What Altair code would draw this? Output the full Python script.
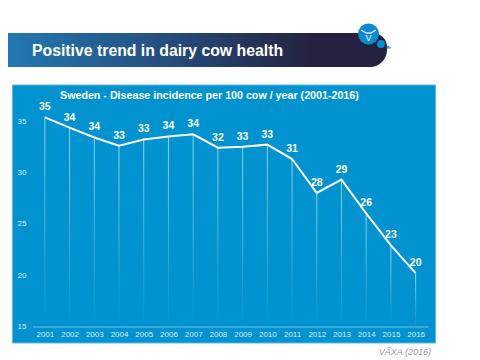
import altair as alt
import pandas as pd

years = list(range(2001, 2017))
values = [35.36, 34.35, 33.4, 32.6, 33.2, 33.5, 33.7, 32.4, 32.5, 32.7, 31.3, 28.0, 29.3, 26.0, 22.9, 20.2]
labels = ["35", "34", "34", "33", "33", "34", "34", "32", "33", "33", "31", "28", "29", "26", "23", "20"]
y_ticks = [15, 20, 25, 30, 35]
banner_title = "Positive trend in dairy cow health"
chart_title = "Sweden - Disease incidence per 100 cow / year (2001-2016)"
source = "VÄXA (2016)"

FONT = "Liberation Sans"
df = pd.DataFrame({"year": years, "value": values, "label": labels, "base": [15] * len(years)})
one = alt.Data(values=[{"a": 1}])

xs = alt.Scale(domain=[2000.5, 2016.5], range=[24.5, 420], padding=0)
ys = alt.Scale(domain=[15, 35], range=[318.5, 113])
x_axis = alt.Axis(
    values=years, format="d", title=None, ticks=False, grid=False, zindex=1,
    domainColor="#6cc0ea", domainWidth=1, labelColor="#d9eef9", labelFont=FONT, labelFontSize=8,
    labelPadding=4, labelFlush=False, labelOverlap=False, labelSeparation=0)
y_axis = alt.Axis(
    values=y_ticks, title=None, ticks=False, grid=False, domain=False, zindex=1, offset=-18,
    labelColor="#d9eef9", labelFont=FONT, labelFontSize=8, labelPadding=0)

banner = alt.Chart(one).mark_rect(
    cornerRadiusBottomRight=20, cornerRadiusTopRight=14,
    color={"gradient": "linear", "x1": 0, "x2": 1, "y1": 0, "y2": 0,
           "stops": [{"offset": 0, "color": "#2179b0"},
                     {"offset": 0.4, "color": "#264f80"},
                     {"offset": 0.8, "color": "#232340"},
                     {"offset": 1, "color": "#232340"}]},
).encode(x=alt.value(0), x2=alt.value(379), y=alt.value(25), y2=alt.value(59))

banner_text = alt.Chart(one).mark_text(
    text=banner_title, font=FONT, fontWeight="bold", fontSize=15.8, color="white", align="left", baseline="middle"
).encode(x=alt.value(24), y=alt.value(43))

logo_big = alt.Chart(one).mark_circle(color="#0c8ad0", opacity=1, size=441).encode(x=alt.value(360.5), y=alt.value(26))
logo_small = alt.Chart(one).mark_circle(color="#0c8ad0", opacity=1, size=64).encode(x=alt.value(373), y=alt.value(36))
logo_dot = alt.Chart(one).mark_circle(color="#2ea0dc", opacity=1, size=9).encode(x=alt.value(380.3), y=alt.value(39.3))
logo_dot2 = alt.Chart(one).mark_circle(color="#6cc0ea", opacity=1, size=4).encode(x=alt.value(382.5), y=alt.value(39.7))
horn_l = alt.Chart(one).mark_rule(color="white", strokeWidth=1.2).encode(
    x=alt.value(353), x2=alt.value(358), y=alt.value(22), y2=alt.value(25))
horn_m = alt.Chart(one).mark_rule(color="white", strokeWidth=1.2).encode(
    x=alt.value(358), x2=alt.value(363), y=alt.value(25), y2=alt.value(25))
horn_r = alt.Chart(one).mark_rule(color="white", strokeWidth=1.2).encode(
    x=alt.value(363), x2=alt.value(368), y=alt.value(25), y2=alt.value(22))
logo_v = alt.Chart(one).mark_text(text="V", font=FONT, fontSize=9, color="white", baseline="middle").encode(
    x=alt.value(360.5), y=alt.value(30))

panel = alt.Chart(one).mark_rect(color="#0093cf", stroke="#5cb8e6", strokeWidth=1).encode(
    x=alt.value(4.5), x2=alt.value(427.5), y=alt.value(77), y2=alt.value(335))

title = alt.Chart(one).mark_text(
    text=chart_title, font=FONT, fontWeight="bold", fontSize=10.7, color="white", align="left", baseline="middle"
).encode(x=alt.value(52), y=alt.value(88))

caption = alt.Chart(one).mark_text(
    text=source, font=FONT, fontStyle="italic", fontSize=9, color="#9a9a9a", align="right", baseline="middle"
).encode(x=alt.value(423), y=alt.value(343.5))

base = alt.Chart(df)

drops = base.mark_bar(
    size=1, orient="vertical",
    color={"gradient": "linear", "x1": 0, "x2": 0, "y1": 0, "y2": 1,
           "stops": [{"offset": 0, "color": "rgba(255,255,255,0.6)"},
                     {"offset": 0.5, "color": "rgba(255,255,255,0.28)"},
                     {"offset": 1, "color": "rgba(255,255,255,0)"}]},
).encode(
    x=alt.X("year:Q", scale=xs, axis=x_axis),
    y=alt.Y("value:Q", scale=ys, axis=y_axis),
    y2="base:Q",
)

line = base.mark_line(color="white", strokeWidth=2, strokeJoin="miter").encode(
    x=alt.X("year:Q", scale=xs, axis=x_axis), y=alt.Y("value:Q", scale=ys, axis=y_axis))

text = base.mark_text(font=FONT, fontWeight="bold", fontSize=10.5, color="white", dy=-10, baseline="middle").encode(
    x=alt.X("year:Q", scale=xs, axis=x_axis), y=alt.Y("value:Q", scale=ys, axis=y_axis), text="label:N")

chart = alt.layer(
    banner, banner_text, logo_big, logo_small, logo_dot, logo_dot2, horn_l, horn_m, horn_r, logo_v,
    panel, title, caption, drops, line, text,
).properties(
    width=464, height=318.5,
    padding={"left": 0, "top": 0, "right": 0, "bottom": 31.5},
    autosize=alt.AutoSizeParams(type="none"),
).configure_view(stroke=None)

chart.save("out.html", embed_options={"renderer": "svg", "actions": False})
